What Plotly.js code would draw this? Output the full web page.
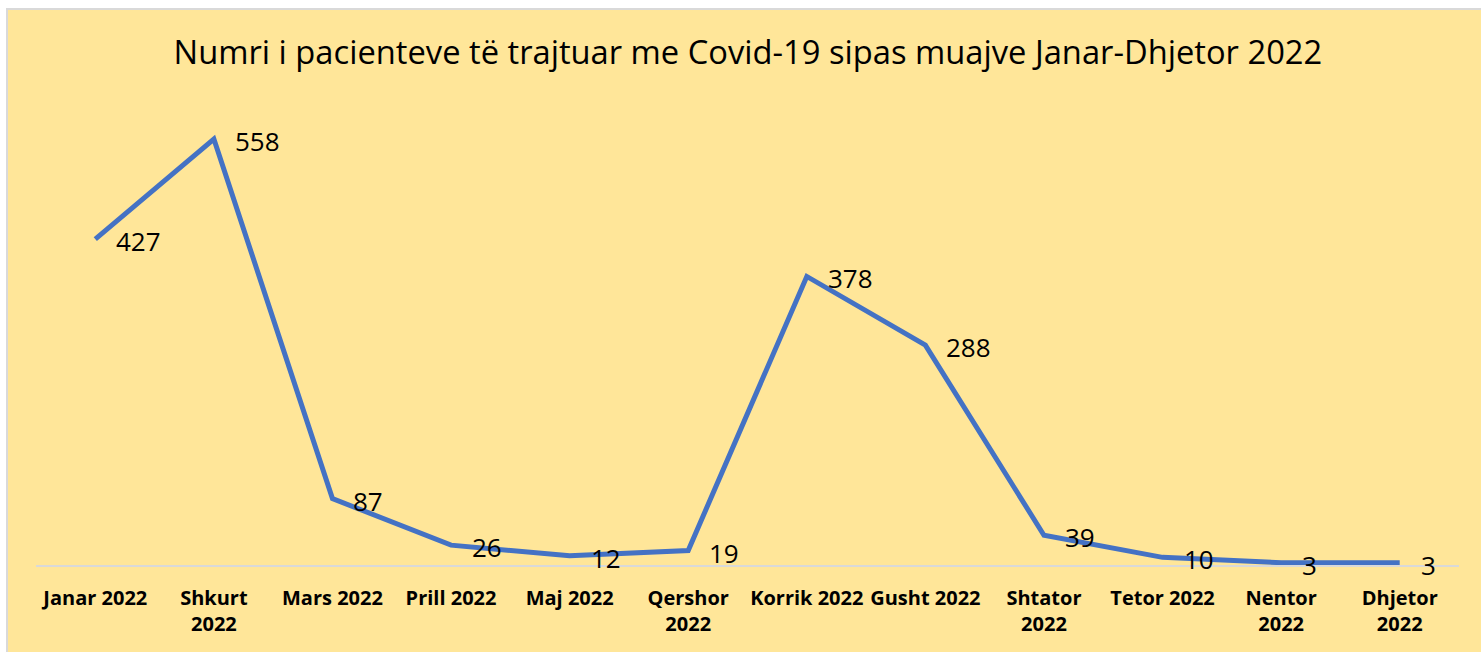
<!DOCTYPE html>
<html>
<head>
<meta charset="utf-8">
<script src="https://cdn.plot.ly/plotly-3.0.1.min.js"></script>
<style>html,body{margin:0;padding:0;background:#fff;}#chart{width:1481px;height:652px;}</style>
</head>
<body>
<div id="chart"></div>
<script>
const months = ["Janar 2022","Shkurt<br>2022","Mars 2022","Prill 2022","Maj 2022","Qershor<br>2022","Korrik 2022","Gusht 2022","Shtator<br>2022","Tetor 2022","Nentor<br>2022","Dhjetor<br>2022"];
const patients = [427,558,87,26,12,19,378,288,39,10,3,3];
const chartTitle = "Numri i pacienteve të trajtuar me Covid-19 sipas muajve Janar-Dhjetor 2022";

const trace = {
  x: months.map((m,i)=>i),
  y: patients,
  type: 'scatter',
  mode: 'lines',
  line: {color:'#4472C4', width:5},
  hoverinfo: 'skip'
};

const annotations = patients.map((v,i)=>({
  x: i, y: v, xref:'x', yref:'y',
  text: String(v), showarrow:false,
  xanchor:'left', yanchor:'middle', xshift:19, yshift:-2,
  font:{family:'Open Sans, Noto Sans, sans-serif', size:26, color:'#000'}
}));

const layout = {
  width:1481, height:652,
  margin:{l:36, r:22, t:107, b:87},
  paper_bgcolor:'#ffffff',
  plot_bgcolor:'rgba(0,0,0,0)',
  showlegend:false,
  title:{text:chartTitle, x:0.505, xanchor:'center', y:0.919, yanchor:'middle',
    font:{family:'Open Sans, Noto Sans, sans-serif', size:32.7, color:'#000'}},
  xaxis:{
    tickmode:'array', tickvals: months.map((m,i)=>i), ticktext: months,
    range:[-0.5, months.length-0.5], tickangle:0,
    showgrid:false, zeroline:false, showline:true, linecolor:'#D9D9D9', linewidth:2,
    ticks:'', ticklabelstandoff:14,
    tickfont:{family:'Open Sans, Noto Sans, sans-serif', size:20, color:'#000', weight:'bold'},
    fixedrange:true
  },
  yaxis:{range:[0,600], visible:false, showgrid:false, zeroline:false, fixedrange:true},
  shapes:[{
    type:'rect', xref:'paper', yref:'paper', layer:'below',
    x0:(7-36)/1423, x1:(1490-36)/1423, y0:(565-660)/458, y1:(565-9)/458,
    fillcolor:'#FFE699', line:{color:'#D9D9D9', width:2}
  }],
  annotations: annotations
};

Plotly.newPlot('chart',[trace],layout,{displayModeBar:false, staticPlot:true});
</script>
</body>
</html>
